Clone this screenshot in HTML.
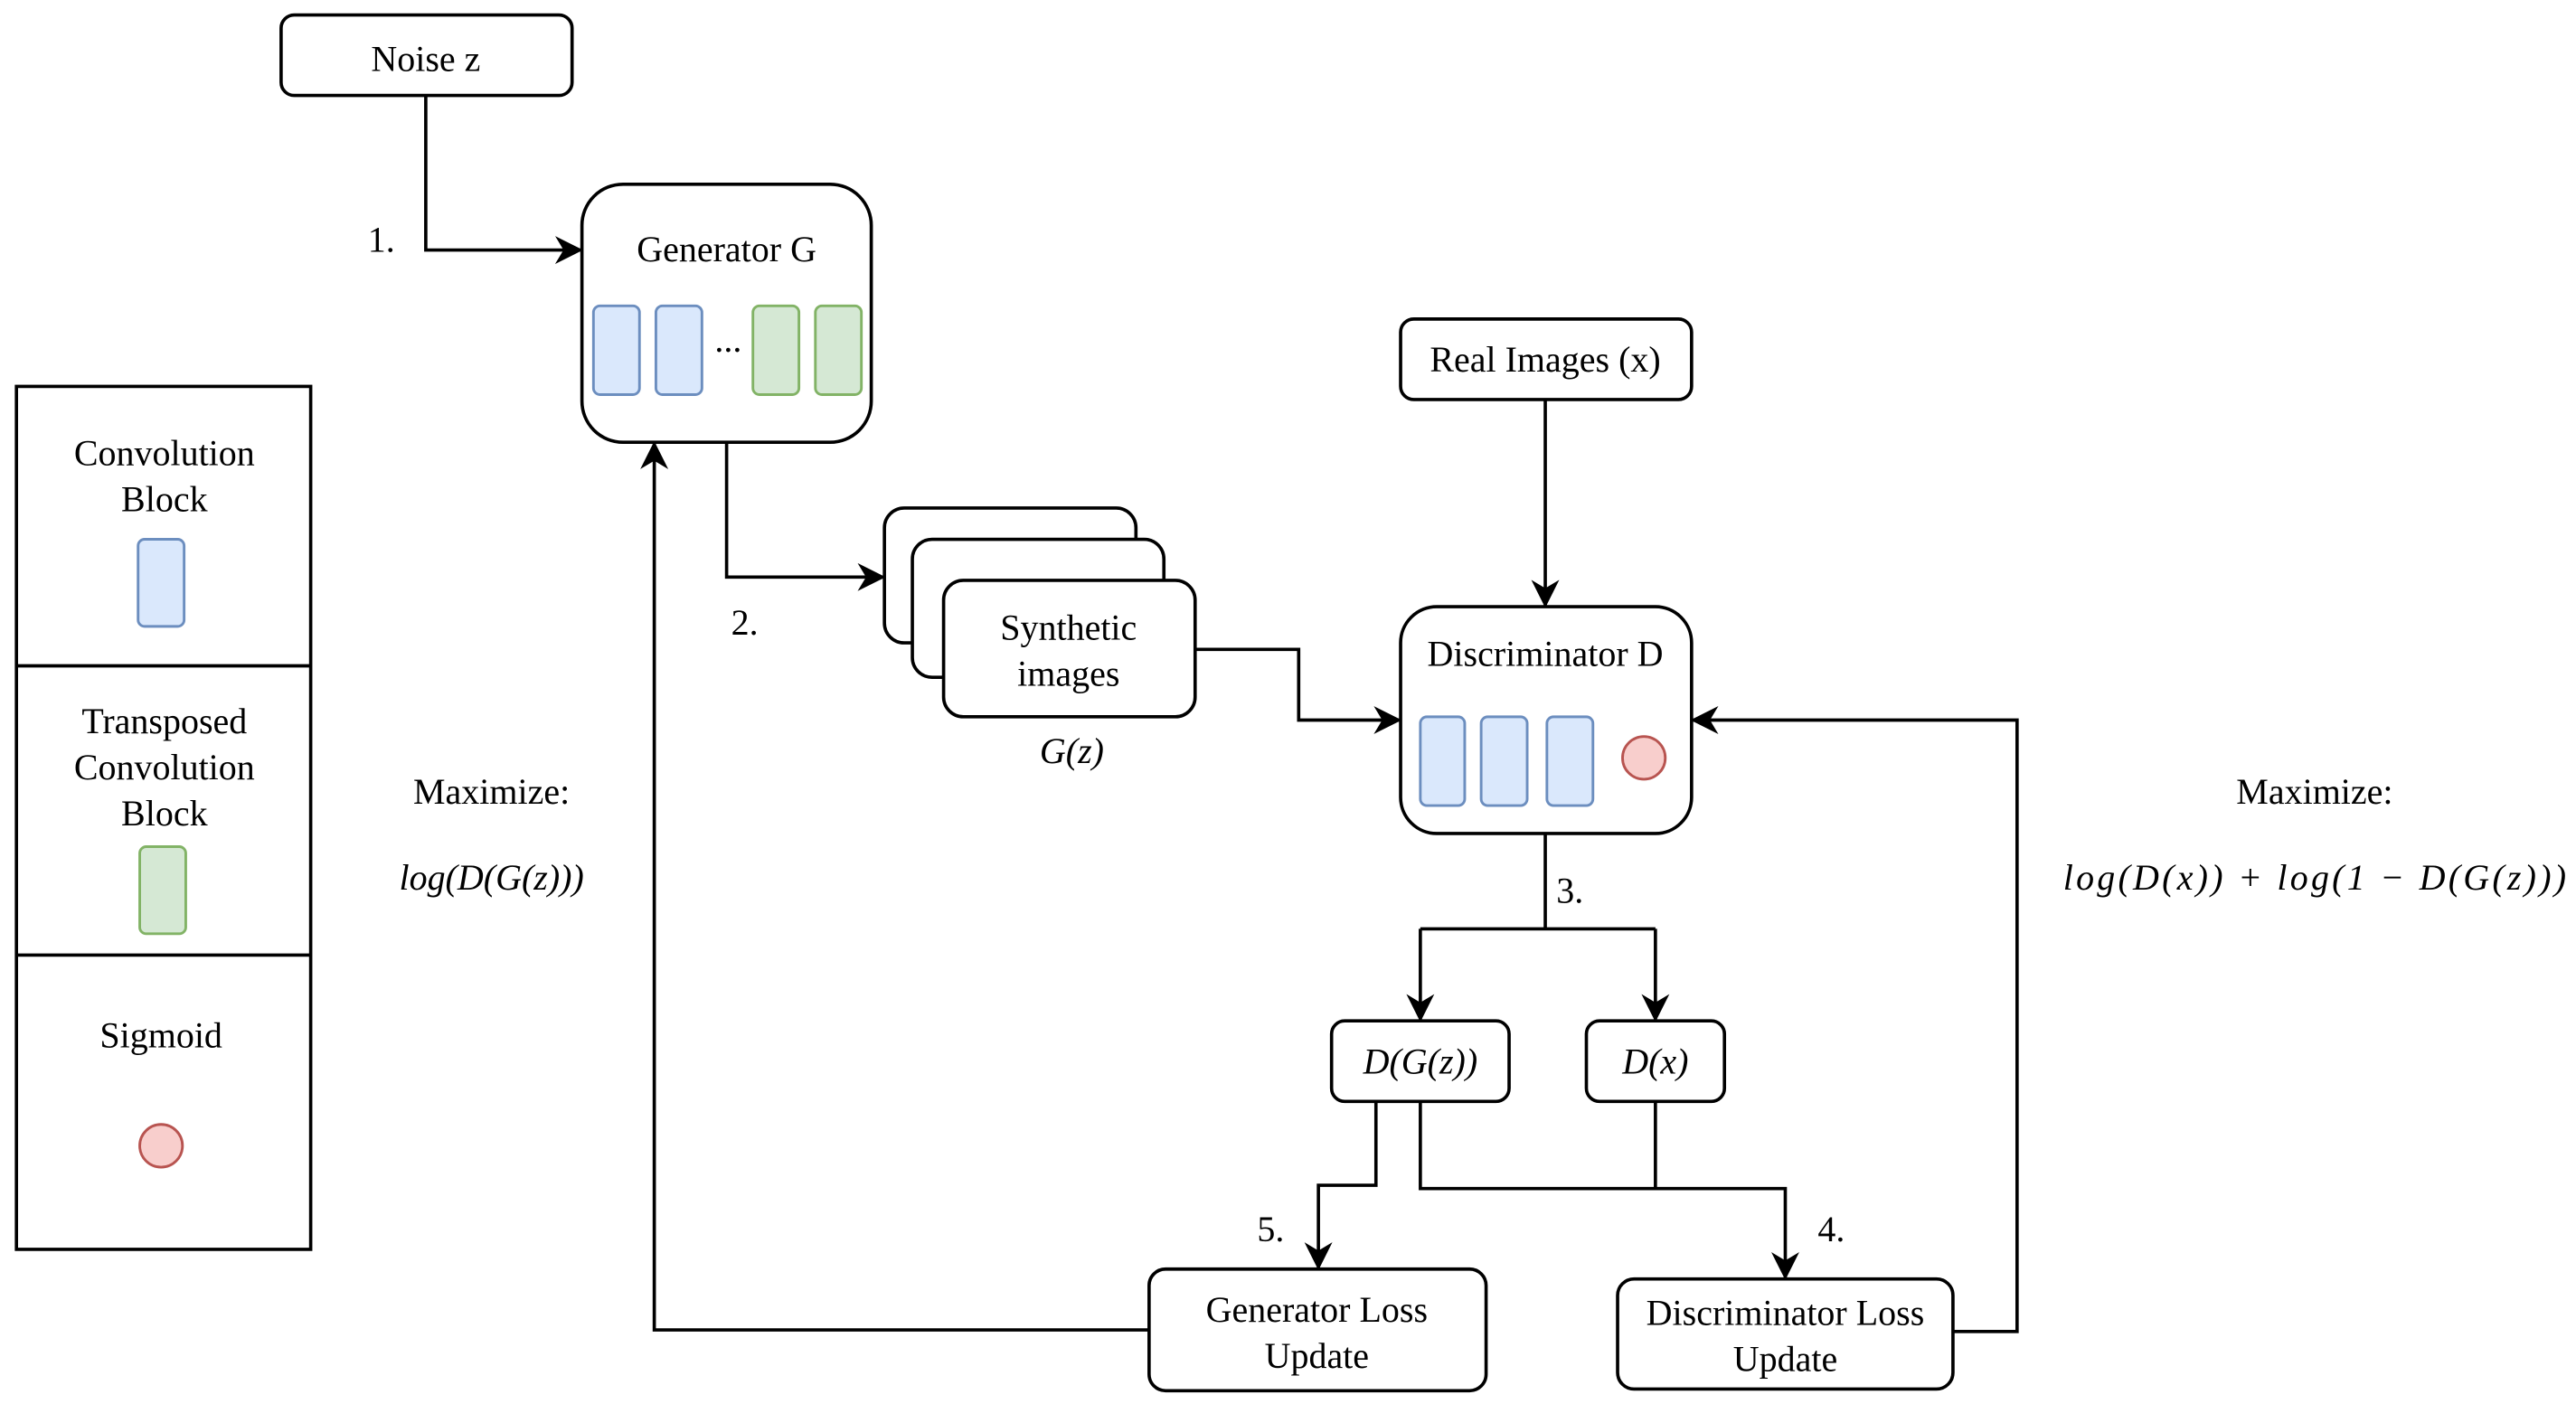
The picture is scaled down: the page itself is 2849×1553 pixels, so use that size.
<!DOCTYPE html>
<html><head><meta charset="utf-8"><style>html,body{margin:0;padding:0;background:#fff;}svg{display:block}text{font-family:"Liberation Serif","DejaVu Serif",serif;}</style></head>
<body>
<svg width="2849" height="1553" viewBox="0 0 1567 854" xmlns="http://www.w3.org/2000/svg" style="font-family:'Liberation Serif',serif" font-size="22" text-anchor="middle">
<defs>
<marker id="b" viewBox="0 0 10 10" refX="9" refY="5" markerWidth="17" markerHeight="17" orient="auto" markerUnits="userSpaceOnUse"><path d="M0,0 L10,5 L0,10 L3,5 z" fill="#000"/></marker></defs>
<g fill="none" stroke="#000" stroke-width="2">
<rect x="171" y="9" width="177" height="49" rx="8"/>
<rect x="354" y="112" width="176" height="157" rx="25"/>
<rect x="538" y="309" width="153" height="82" rx="12" fill="#fff"/>
<rect x="555" y="328" width="153" height="84" rx="12" fill="#fff"/>
<rect x="574" y="353" width="153" height="83" rx="12" fill="#fff"/>
<rect x="852" y="194" width="177" height="49" rx="8"/>
<rect x="852" y="369" width="177" height="138" rx="22"/>
<rect x="810" y="621" width="108" height="49" rx="8"/>
<rect x="965" y="621" width="84" height="49" rx="8"/>
<rect x="699" y="772" width="205" height="74" rx="10"/>
<rect x="984" y="778" width="204" height="67" rx="10"/>
<rect x="10" y="235" width="179" height="525"/>
<line x1="10" y1="405" x2="189" y2="405"/><line x1="10" y1="581" x2="189" y2="581"/>
<path d="M259,58 V152 H353" marker-end="url(#b)"/>
<path d="M442,269 V351 H537" marker-end="url(#b)"/>
<path d="M727,395 H790 V438 H851" marker-end="url(#b)"/>
<path d="M940,243 V368" marker-end="url(#b)"/>
<path d="M940,507 V565"/>
<path d="M864,565 H1007"/>
<path d="M864,565 V620" marker-end="url(#b)"/>
<path d="M1007,565 V620" marker-end="url(#b)"/>
<path d="M837,670 V721 H802 V771" marker-end="url(#b)"/>
<path d="M864,670 V723 H1086 V777" marker-end="url(#b)"/>
<path d="M1007,670 V723"/>
<path d="M699,809 H398 V270" marker-end="url(#b)"/>
<path d="M1188,810 H1227 V438 H1030" marker-end="url(#b)"/>
</g>
<g stroke-width="1.6">
<g fill="#dae8fc" stroke="#6c8ebf">
<rect x="361" y="186" width="28" height="54" rx="4"/><rect x="399" y="186" width="28" height="54" rx="4"/>
<rect x="864" y="436" width="27" height="54" rx="4"/><rect x="901" y="436" width="28" height="54" rx="4"/><rect x="941" y="436" width="28" height="54" rx="4"/>
<rect x="84" y="328" width="28" height="53" rx="4"/>
</g>
<g fill="#d5e8d4" stroke="#82b366">
<rect x="458" y="186" width="28" height="54" rx="4"/><rect x="496" y="186" width="28" height="54" rx="4"/>
<rect x="85" y="515" width="28" height="53" rx="4"/>
</g>
<g fill="#f8cecc" stroke="#b85450"><circle cx="1000" cy="461" r="13"/><circle cx="98" cy="697" r="13"/></g>
</g>
<g fill="#000">
<text x="259" y="43">Noise z</text>
<text x="442" y="159">Generator G</text>
<text x="443" y="214">...</text>
<text x="232" y="153">1.</text>
<text x="453" y="386">2.</text>
<text x="650" y="389">Synthetic</text><text x="650" y="417">images</text>
<text x="652" y="464" font-style="italic">G(z)</text>
<text x="940" y="226">Real Images (x)</text>
<text x="940" y="405">Discriminator D</text>
<text x="955" y="549">3.</text>
<text x="864" y="653" font-style="italic">D(G(z))</text>
<text x="1007" y="653" font-style="italic">D(x)</text>
<text x="773" y="755">5.</text>
<text x="1114" y="755">4.</text>
<text x="801" y="804">Generator Loss</text><text x="801" y="832">Update</text>
<text x="1086" y="806">Discriminator Loss</text><text x="1086" y="834">Update</text>
<text x="299" y="489">Maximize:</text>
<text x="299" y="541" font-style="italic">log(D(G(z)))</text>
<text x="1408" y="489">Maximize:</text>
<text x="1408" y="541" font-style="italic" textLength="306" lengthAdjust="spacing">log(D(x)) + log(1 − D(G(z)))</text>
<text x="100" y="283">Convolution</text><text x="100" y="311">Block</text>
<text x="100" y="446">Transposed</text><text x="100" y="474">Convolution</text><text x="100" y="502">Block</text>
<text x="98" y="637">Sigmoid</text>
</g>
</svg>
</body></html>
